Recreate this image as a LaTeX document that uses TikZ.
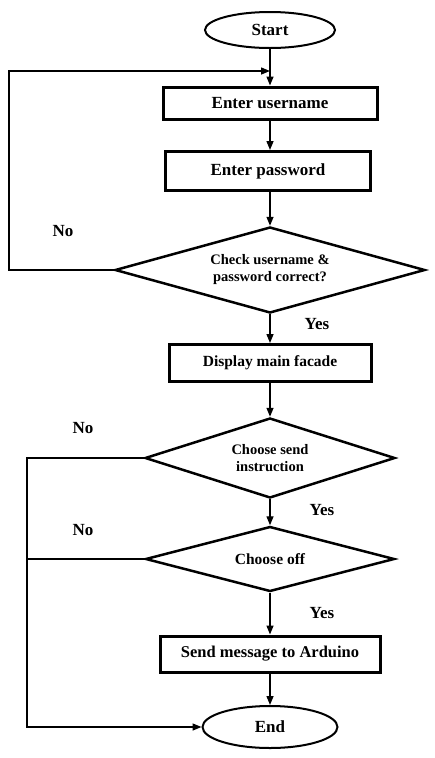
\documentclass[tikz,border=0pt]{standalone}
\usepackage{fontspec}
\setmainfont{Liberation Serif}
\usetikzlibrary{shapes.geometric,arrows.meta}
\begin{document}
\begin{tikzpicture}[x=1pt,y=-1pt,
    term/.style={ellipse,draw,line width=2pt,minimum width=130pt,minimum height=36pt,inner sep=0pt,font=\bfseries\fontsize{17}{19}\selectfont},
    box/.style={rectangle,draw,line width=3pt,inner sep=0pt,font=\bfseries\fontsize{17}{19}\selectfont},
    dec/.style={diamond,draw,line width=2.5pt,inner sep=0pt,aspect=3,align=center,font=\bfseries\fontsize{14.5}{17}\selectfont},
    lbl/.style={font=\bfseries\fontsize{17}{19}\selectfont},
    arrow/.style={line width=1.4pt,-{Triangle[length=9pt,width=7pt]}},
    line/.style={line width=1.4pt}]
    \useasboundingbox (0,0) rectangle (435,758);

    % terminals
    \node[term] (start) at (270,30) {Start};
    \node[term,minimum width=135pt,minimum height=42pt] (stop) at (270,727) {End};

    % process boxes
    \node[box,minimum width=214pt,minimum height=32pt] (user) at (270,103) {Enter username};
    \node[box,minimum width=205pt,minimum height=39pt] (pass) at (268,171) {Enter password};
    \node[box,minimum width=202pt,minimum height=37pt,font=\bfseries\fontsize{15.5}{17}\selectfont] (disp) at (270,363) {Display main facade};
    \node[box,minimum width=220pt,minimum height=36pt,font=\bfseries\fontsize{16.5}{19}\selectfont] (msg) at (270,654) {Send message to Arduino};

    % decisions
    \node[dec,minimum width=310pt,minimum height=86pt] (check) at (270,270) {Check username \&\\password correct?};
    \node[dec,minimum width=250pt,minimum height=80pt] (send) at (270,458) {Choose send\\instruction};
    \node[dec,minimum width=249pt,minimum height=65pt,font=\bfseries\fontsize{15.5}{17}\selectfont] (off) at (270,559) {Choose off};

    % junctions
    \coordinate (j1) at (270,71);
    \coordinate (c1) at (9,270);
    \coordinate (c2) at (27,458);

    % main flow
    \draw[arrow] (start) -- (user);
    \draw[arrow] (user.south) -- (user.south |- pass.north);
    \draw[arrow] (pass.south -| check.north) -- (check);
    \draw[arrow] (check) -- (disp);
    \draw[arrow] (disp) -- (send);
    \draw[arrow] (send) -- (off);
    \draw[arrow] (off) -- (msg);
    \draw[arrow] (msg) -- (stop);

    % No branches
    \draw[arrow] (check.west) -- (c1) |- (j1);
    \draw[arrow] (send.west) -- (c2) |- (stop.west);
    \draw[line] (off.west) -- (off.west -| c2);

    % labels
    \node[lbl] (n1) at (63,231) {No};
    \node[lbl] (n2) at (83,428) {No};
    \node[lbl] (n3) at (83,530) {No};
    \node[lbl] (y1) at (317,324) {Yes};
    \node[lbl] (y2) at (322,510) {Yes};
    \node[lbl] (y3) at (322,613) {Yes};
\end{tikzpicture}
\end{document}
